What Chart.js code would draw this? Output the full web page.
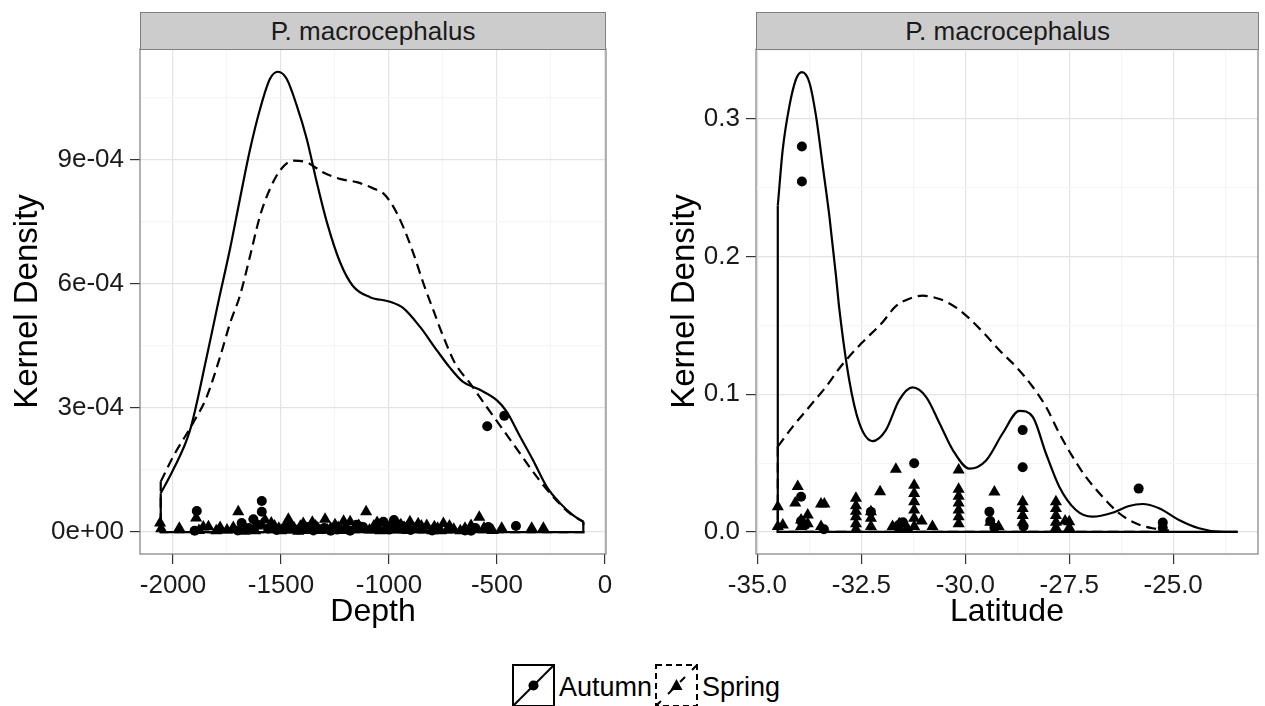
<!DOCTYPE html>
<html lang="en">
<head>
<meta charset="UTF-8" />
<title>Kernel density – P. macrocephalus</title>
<script src="https://cdn.jsdelivr.net/npm/chart.js"></script>
<style>
  body { margin: 0; background: #fff; font-family: "Liberation Sans", Arial, sans-serif; }
  #page { position: relative; width: 1265px; height: 706px; overflow: hidden; background: #fff; }
  #page canvas { position: absolute; top: 0; }
  .strip { position: absolute; top: 12px; height: 38px; box-sizing: border-box; background: #ccc;
           border: 1px solid #7f7f7f; font-size: 26px; line-height: 36px; text-align: center; color: #1a1a1a; }
  .key { position: absolute; top: 664px; }
  .keytext { position: absolute; top: 670px; font-size: 27px; line-height: 34px; color: #000; }
</style>
</head>
<body>
<div id="page">
  <canvas id="depthChart" width="632" height="640" style="left:0"></canvas>
  <canvas id="latChart" width="633" height="640" style="left:632px"></canvas>

  <div class="strip" style="left:140px; width:466px">P. macrocephalus</div>
  <div class="strip" style="left:756px; width:503px">P. macrocephalus</div>

  <!-- legend -->
  <svg class="key" style="left:512px" width="43" height="43">
    <rect x="1" y="1" width="41" height="41" fill="none" stroke="#000" stroke-width="2"/>
    <line x1="1" y1="42" x2="42" y2="1" stroke="#000" stroke-width="2"/>
    <circle cx="21.5" cy="21.5" r="5" fill="#000"/>
  </svg>
  <span class="keytext" style="left:559px">Autumn</span>
  <svg class="key" style="left:655px" width="43" height="43">
    <rect x="1" y="1" width="41" height="41" fill="none" stroke="#000" stroke-width="2" stroke-dasharray="6 4"/>
    <line x1="1" y1="42" x2="42" y2="1" stroke="#000" stroke-width="2" stroke-dasharray="7 10"/>
    <polygon points="21.5,15 27.5,26 15.5,26" fill="#000"/>
  </svg>
  <span class="keytext" style="left:702px">Spring</span>
</div>

<script>
// ---- Depth panel -------------------------------------------------------
const depthAutumnX = [-2057, -2000, -1921, -1844, -1787, -1736, -1690, -1643, -1597, -1551, -1514, -1474, -1427, -1381, -1335, -1288, -1227, -1167, -1088, -995, -935, -856, -779, -717, -657, -579, -501, -455, -393, -333, -270, -208, -148, -100];
const depthAutumnY = [9.4e-5, 1.5e-4, 2.47e-4, 4.24e-4, 5.64e-4, 6.85e-4, 8.06e-4, 9.26e-4, 1.023e-3, 1.096e-3, 1.113e-3, 1.096e-3, 1.031e-3, 9.51e-4, 8.47e-4, 7.5e-4, 6.53e-4, 5.95e-4, 5.68e-4, 5.57e-4, 5.42e-4, 4.96e-4, 4.4e-4, 3.97e-4, 3.63e-4, 3.44e-4, 3.19e-4, 2.91e-4, 2.31e-4, 1.74e-4, 1.1e-4, 7.0e-5, 4.1e-5, 2.5e-5];

const depthSpringX = [-2057, -2000, -1907, -1844, -1782, -1736, -1690, -1643, -1597, -1551, -1505, -1444, -1381, -1306, -1227, -1149, -1073, -1026, -980, -934, -887, -841, -795, -748, -694, -625, -548, -471, -393, -316, -239, -162, -100];
const depthSpringY = [1.22e-4, 1.82e-4, 2.64e-4, 3.27e-4, 4.24e-4, 5.05e-4, 5.72e-4, 6.68e-4, 7.65e-4, 8.3e-4, 8.74e-4, 8.98e-4, 8.94e-4, 8.7e-4, 8.54e-4, 8.46e-4, 8.31e-4, 8.19e-4, 7.87e-4, 7.38e-4, 6.74e-4, 6.02e-4, 5.37e-4, 4.72e-4, 4.08e-4, 3.6e-4, 3.03e-4, 2.47e-4, 1.9e-4, 1.34e-4, 8.5e-5, 4.5e-5, 2.5e-5];

// rug-like points (jittered heights)
const depthAutumnPtX = [-1890, -1589, -1589, -1628, -1682, -1650, -1560, -1520, -1480, -1420, -1350, -1300, -1240, -1180, -1120, -1060, -1026, -977, -940, -900, -860, -800, -648, -600, -540, -412, -545, -466, -1900, -1700, -1610, -1455, -1380, -1270, -1150, -1000, -960, -920, -620];
const depthAutumnPtY = [5.1e-5, 7.5e-5, 4.9e-5, 3.1e-5, 2.2e-5, 1.0e-5, 8e-6, 5e-6, 1.2e-5, 6e-6, 4e-6, 1.0e-5, 6e-6, 3e-6, 1.2e-5, 8e-6, 2.5e-5, 2.9e-5, 1.5e-5, 5e-6, 1.0e-5, 4e-6, 4e-6, 1.0e-5, 1.2e-5, 1.45e-5, 2.56e-4, 2.81e-4, 3e-6, 4e-6, 1.8e-5, 1.5e-5, 1.2e-5, 3e-6, 1.8e-5, 6e-6, 1.9e-5, 8e-6, 3e-6];

const depthSpringPtX = [-2060, -2055, -1971, -1893, -1880, -1860, -1836, -1800, -1782, -1750, -1721, -1698, -1670, -1610, -1574, -1555, -1530, -1500, -1466, -1440, -1420, -1397, -1370, -1340, -1320, -1296, -1270, -1250, -1220, -1200, -1180, -1160, -1140, -1106, -1090, -1070, -1040, -1000, -980, -960, -930, -903, -880, -850, -825, -800, -775, -748, -730, -700, -670, -648, -620, -582, -560, -520, -478, -339, -285,
  -1620, -1590, -1545, -1510, -1455, -1410, -1385, -1355, -1330, -1285, -1235, -1210, -1190, -1125, -1055, -1020, -990, -945, -915, -865, -840, -790, -760, -720];
const depthSpringPtY = [2.2e-5, 8e-6, 9e-6, 3.4e-5, 4e-6, 1.2e-5, 1.3e-5, 3e-6, 1.1e-5, 5e-6, 1.1e-5, 4.9e-5, 2e-6, 1.5e-5, 2.9e-5, 6e-6, 1.5e-5, 3e-6, 3.1e-5, 1.0e-5, 2e-6, 2.1e-5, 8e-6, 1.5e-5, 4e-6, 3.1e-5, 9e-6, 1.8e-5, 4e-6, 1.4e-5, 2.5e-5, 7e-6, 1.6e-5, 4.9e-5, 5e-6, 1.5e-5, 3e-6, 1.2e-5, 2.0e-5, 5e-6, 1.1e-5, 2.5e-5, 8e-6, 1.5e-5, 1.6e-5, 3e-6, 9e-6, 2.1e-5, 5e-6, 7e-6, 3e-6, 9e-6, 1.6e-5, 3.6e-5, 1.0e-5, 4e-6, 9e-6, 9e-6, 9e-6,
  3e-6, 1.8e-5, 2.2e-5, 9e-6, 5e-6, 1.4e-5, 4e-6, 2.4e-5, 1.0e-5, 5e-6, 1.1e-5, 2.6e-5, 5e-6, 9e-6, 2.3e-5, 6e-6, 1.0e-5, 1.8e-5, 4e-6, 2.0e-5, 5e-6, 1.3e-5, 3e-6, 1.5e-5];

const depthXMajor = [-2000, -1500, -1000, -500, 0];
const depthXLabels = ['-2000', '-1500', '-1000', '-500', '0'];
const depthXMinor = [-1750, -1250, -750, -250];
const depthYMajor = [0, 3e-4, 6e-4, 9e-4];
const depthYLabels = ['0e+00', '3e-04', '6e-04', '9e-04'];
const depthYMinor = [1.5e-4, 4.5e-4, 7.5e-4, 1.05e-3];

// ---- Latitude panel ----------------------------------------------------
const latAutumnX = [-34.51, -34.39, -34.23, -34.07, -33.93, -33.75, -33.59, -33.43, -33.27, -33.11, -33.03, -32.79, -32.55, -32.23, -31.91, -31.59, -31.27, -30.94, -30.62, -30.30, -29.90, -29.50, -29.10, -28.70, -28.38, -28.06, -27.74, -27.34, -26.94, -26.46, -26.06, -25.74, -25.34, -24.86, -24.38, -23.89, -23.45];
const latAutumnY = [0.237, 0.278, 0.3095, 0.329, 0.334, 0.3265, 0.302, 0.266, 0.2296, 0.186, 0.162, 0.110, 0.079, 0.066, 0.074, 0.0958, 0.105, 0.098, 0.079, 0.0595, 0.046, 0.052, 0.0717, 0.088, 0.0837, 0.057, 0.0329, 0.016, 0.0111, 0.014, 0.0189, 0.0203, 0.0172, 0.0087, 0.0027, 0.0002, 0];

const latSpringX = [-34.51, -34.15, -33.75, -33.35, -33.0, -32.5, -32.0, -31.67, -31.3, -31.03, -30.6, -30.22, -29.9, -29.54, -29.18, -28.78, -28.38, -28.06, -27.74, -27.42, -27.1, -26.7, -26.3, -25.9, -25.5, -25.1];
const latSpringY = [0.062, 0.0765, 0.091, 0.1055, 0.12, 0.137, 0.152, 0.164, 0.170, 0.1716, 0.169, 0.163, 0.155, 0.144, 0.132, 0.12, 0.1055, 0.091, 0.0717, 0.0547, 0.040, 0.0256, 0.0136, 0.0063, 0.0027, 0.001];

const latAutumnPtX = [-33.93, -33.93, -28.62, -28.62, -25.83, -25.25, -31.23, -29.42, -33.95, -33.95, -33.85, -32.27, -31.6, -31.5, -29.4, -29.3, -28.6, -33.4, -25.25];
const latAutumnPtY = [0.28, 0.2546, 0.074, 0.047, 0.0315, 0.0068, 0.0499, 0.0147, 0.0256, 0.008, 0.005, 0.0147, 0.005, 0.007, 0.008, 0.003, 0.004, 0.002, 0.003];

const latSpringPtX = [-34.51, -34.51, -34.39, -34.03, -34.09, -33.95, -33.95, -33.79, -33.79, -33.47, -33.47, -33.39, -32.63, -32.63, -32.63, -32.63, -32.63, -32.63, -32.27, -32.27, -32.27, -32.05, -31.67, -31.59, -31.59, -31.75, -31.4, -31.23, -31.23, -31.23, -31.23, -31.23, -31.23, -31.05, -30.79, -30.16, -30.16, -30.16, -30.16, -30.16, -30.16, -30.16, -29.3, -29.4, -29.2, -28.62, -28.62, -28.62, -28.62, -27.82, -27.82, -27.82, -27.82, -27.82, -27.6, -27.5, -27.5];
const latSpringPtY = [0.0184, 0.004, 0.005, 0.033, 0.021, 0.0087, 0.004, 0.0123, 0.006, 0.0203, 0.004, 0.0203, 0.0245, 0.019, 0.015, 0.011, 0.006, 0.002, 0.0147, 0.010, 0.004, 0.0293, 0.0455, 0.006, 0.002, 0.004, 0.003, 0.034, 0.028, 0.022, 0.016, 0.010, 0.004, 0.008, 0.004, 0.045, 0.031, 0.026, 0.021, 0.016, 0.011, 0.006, 0.029, 0.007, 0.004, 0.022, 0.017, 0.012, 0.007, 0.022, 0.017, 0.012, 0.007, 0.003, 0.008, 0.0075, 0.003];

const latXMajor = [-35, -32.5, -30, -27.5, -25];
const latXLabels = ['-35.0', '-32.5', '-30.0', '-27.5', '-25.0'];
const latXMinor = [-33.75, -31.25, -28.75, -26.25, -23.75];
const latYMajor = [0, 0.1, 0.2, 0.3];
const latYLabels = ['0.0', '0.1', '0.2', '0.3'];
const latYMinor = [0.05, 0.15, 0.25, 0.35];

// -----------------------------------------------------------------------
Chart.defaults.font.family = '"Liberation Sans", Arial, sans-serif';
Chart.defaults.color = '#1a1a1a';

const zip = (xs, ys) => xs.map((x, i) => ({ x, y: ys[i] }));

const panelBorder = {
  id: 'panelBorder',
  afterDraw(chart) {
    const { ctx, chartArea: a } = chart;
    ctx.save();
    ctx.strokeStyle = '#7f7f7f';
    ctx.lineWidth = 1.2;
    ctx.strokeRect(a.left, a.top, a.right - a.left, a.bottom - a.top);
    ctx.restore();
  }
};

function gridTicks(major, labels, minor) {
  return major.map((v, i) => ({ value: v, lab: labels[i] }))
    .concat(minor.map(v => ({ value: v, lab: '' })));
}

function axis(min, max, major, labels, minor, extra) {
  return Object.assign({
    type: 'linear',
    min, max,
    afterBuildTicks: s => { s.ticks = gridTicks(major, labels, minor); },
    ticks: {
      autoSkip: false, maxRotation: 0, padding: 6,
      font: { size: 26 }, color: '#1a1a1a',
      callback: (v, i, t) => t[i].lab
    },
    grid: {
      color: c => (c.tick && c.tick.lab !== '') ? '#e3e3e3' : '#f5f5f5',
      tickColor: c => (c.tick && c.tick.lab !== '') ? '#333' : 'rgba(0,0,0,0)',
      tickLength: 10,
      lineWidth: 1.2
    },
    border: { display: false }
  }, extra);
}

function densityChart(id, d) {
  const solid = { borderColor: '#000', borderWidth: 2.2, pointRadius: 0, showLine: true, fill: false };
  const dashed = Object.assign({}, solid, { borderDash: [10, 6] });
  return new Chart(document.getElementById(id), {
    type: 'scatter',
    data: {
      datasets: [
        Object.assign({ label: 'Autumn', data: zip(d.aX, d.aY), cubicInterpolationMode: 'monotone' }, solid),
        Object.assign({ label: 'Autumn base', data: d.aBase, tension: 0 }, solid),
        Object.assign({ label: 'Spring', data: zip(d.sX, d.sY), cubicInterpolationMode: 'monotone' }, dashed),
        Object.assign({ label: 'Spring base', data: d.sBase, tension: 0 }, dashed),
        { label: 'Autumn pts', data: zip(d.apX, d.apY), pointStyle: 'circle', pointRadius: 5,
          backgroundColor: '#000', borderColor: '#000', borderWidth: 0 },
        { label: 'Spring pts', data: zip(d.spX, d.spY), pointStyle: 'triangle', pointRadius: 7,
          backgroundColor: '#000', borderColor: '#000', borderWidth: 0 }
      ]
    },
    options: {
      responsive: false,
      animation: false,
      devicePixelRatio: 1,
      layout: { padding: { top: 49, right: d.padRight, left: 0, bottom: 0 } },
      plugins: { legend: { display: false }, tooltip: { enabled: false } },
      scales: {
        x: axis(d.xMin, d.xMax, d.xMajor, d.xLabels, d.xMinor, {
          title: { display: true, text: d.xTitle, font: { size: 32 }, color: '#000', padding: { top: 0, bottom: 9 } },
          afterFit: s => { s.height = 86; }
        }),
        y: axis(d.yMin, d.yMax, d.yMajor, d.yLabels, d.yMinor, {
          title: { display: true, text: 'Kernel Density', font: { size: 33 }, color: '#000', padding: { top: d.yTitlePad, bottom: 0 } },
          afterFit: s => { s.width = d.yWidth; }
        })
      }
    },
    plugins: [panelBorder]
  });
}

densityChart('depthChart', {
  aX: depthAutumnX, aY: depthAutumnY, sX: depthSpringX, sY: depthSpringY,
  aBase: [{ x: depthAutumnX[0], y: depthAutumnY[0] }, { x: depthAutumnX[0], y: 0 },
          { x: depthAutumnX[depthAutumnX.length - 1], y: 0 }, { x: depthAutumnX[depthAutumnX.length - 1], y: depthAutumnY[depthAutumnY.length - 1] }],
  sBase: [{ x: depthSpringX[0], y: depthSpringY[0] }, { x: depthSpringX[0], y: 0 },
          { x: depthSpringX[depthSpringX.length - 1], y: 0 }, { x: depthSpringX[depthSpringX.length - 1], y: depthSpringY[depthSpringY.length - 1] }],
  apX: depthAutumnPtX, apY: depthAutumnPtY, spX: depthSpringPtX, spY: depthSpringPtY,
  xMin: -2153, xMax: 5, xMajor: depthXMajor, xLabels: depthXLabels, xMinor: depthXMinor,
  yMin: -5.3e-5, yMax: 1.168e-3, yMajor: depthYMajor, yLabels: depthYLabels, yMinor: depthYMinor,
  xTitle: 'Depth', yWidth: 140, yTitlePad: 8, padRight: 26
});

densityChart('latChart', {
  aX: latAutumnX, aY: latAutumnY, sX: latSpringX, sY: latSpringY,
  aBase: [{ x: latAutumnX[0], y: latAutumnY[0] }, { x: latAutumnX[0], y: 0 },
          { x: latAutumnX[latAutumnX.length - 1], y: 0 }],
  sBase: [{ x: latSpringX[0], y: latSpringY[0] }, { x: latSpringX[0], y: 0 },
          { x: latSpringX[latSpringX.length - 1], y: 0 }, { x: latSpringX[latSpringX.length - 1], y: latSpringY[latSpringY.length - 1] }],
  apX: latAutumnPtX, apY: latAutumnPtY, spX: latSpringPtX, spY: latSpringPtY,
  xMin: -35.034, xMax: -22.96, xMajor: latXMajor, xLabels: latXLabels, xMinor: latXMinor,
  yMin: -0.016, yMax: 0.3508, yMajor: latYMajor, yLabels: latYLabels, yMinor: latYMinor,
  xTitle: 'Latitude', yWidth: 124, yTitlePad: 33, padRight: 6
});
</script>
</body>
</html>
